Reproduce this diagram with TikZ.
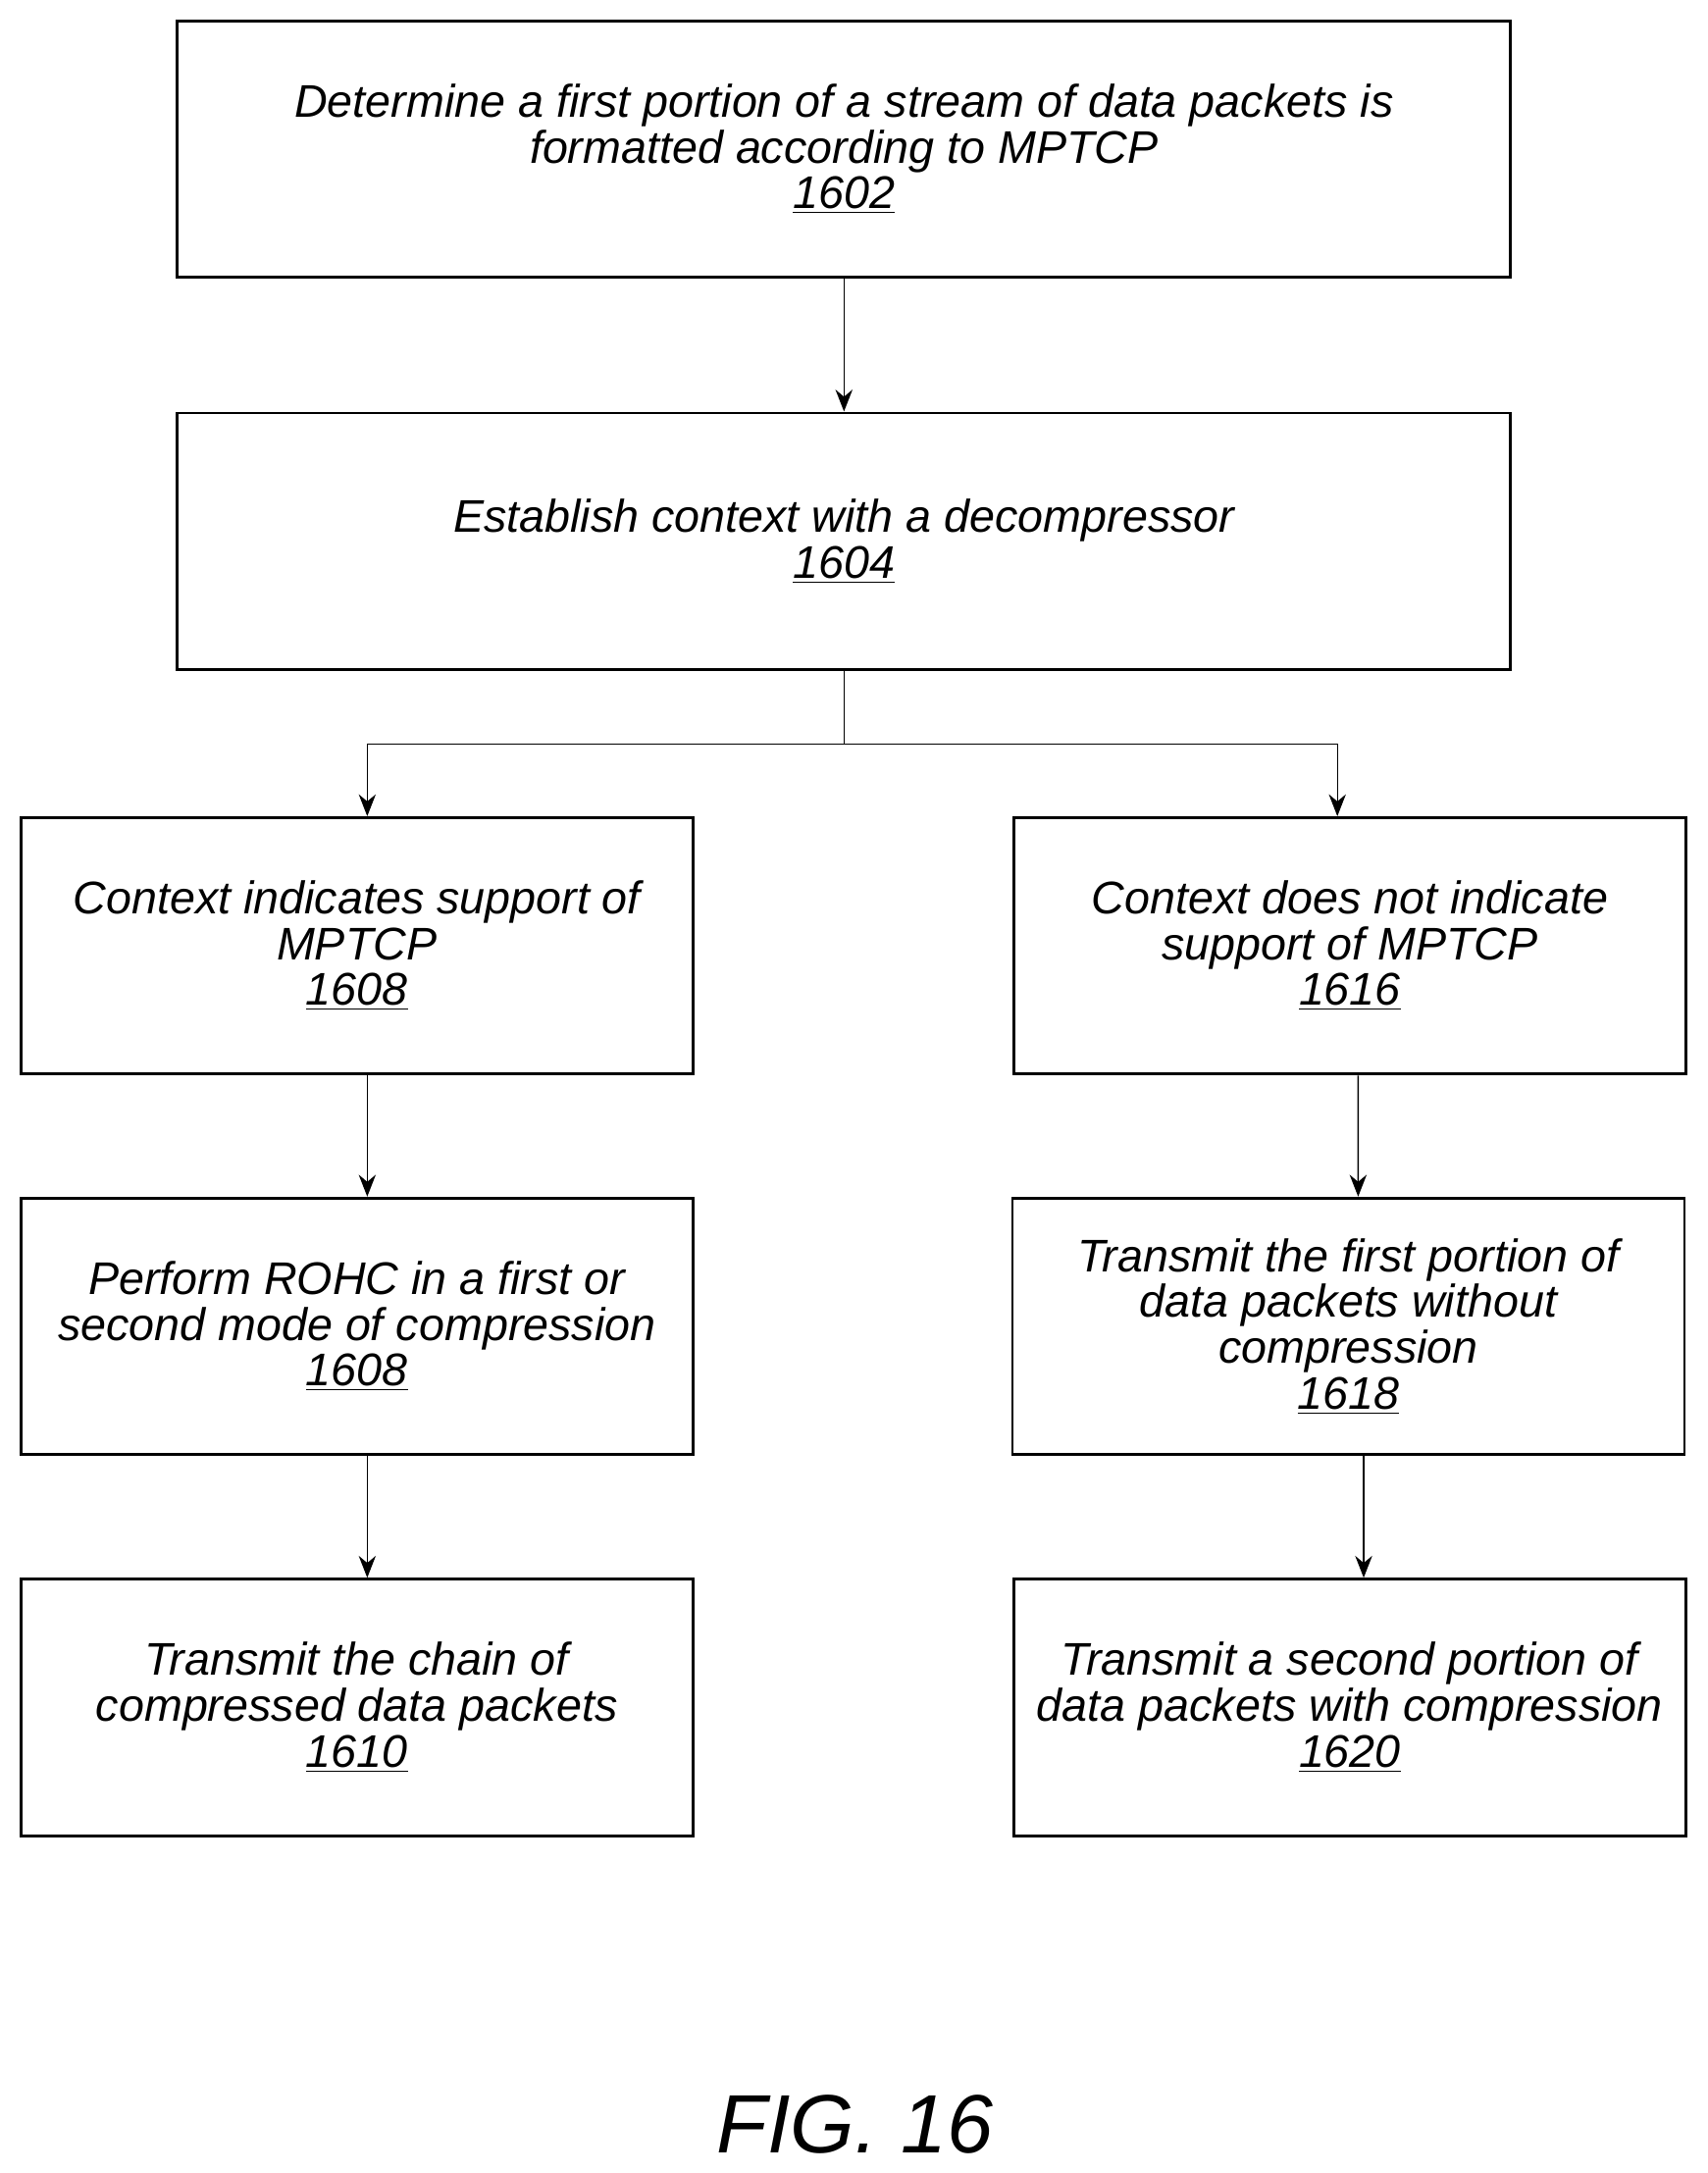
\documentclass[tikz,border=0pt]{standalone}
\usepackage{fontspec}
\setmainfont{Liberation Sans}
\usetikzlibrary{arrows.meta,positioning}
\begin{document}
\begin{tikzpicture}[x=0.02cm,y=-0.02cm,
                    stepND/.style={rectangle,
                                   draw=black,
                                   line width=1.2pt,
                                   minimum width=9.7cm,
                                   minimum height=3.7cm,
                                   align=center,
                                   font=\fontsize{18.8}{18.8}\selectfont\itshape},
                    wideND/.style={stepND,minimum width=19.24cm},
                    flow/.style={-{Stealth[length=9pt,width=7pt]},line width=0.6pt}]
    \useasboundingbox (0,0) rectangle (1232,1568);
    \node[wideND](s1602) at (609,107.5) {Determine a first portion of a stream of data packets is\\formatted according to MPTCP\\\underline{1602}};
    \node[wideND](s1604) at (609,390.5) {Establish context with a decompressor\\\underline{1604}};
    \node[stepND](s1608a) at (257.5,682.5) {Context indicates support of\\MPTCP\\\underline{1608}};
    \node[stepND](s1616) at (974,682.5) {Context does not indicate\\support of MPTCP\\\underline{1616}};
    \node[stepND](s1608b) at (257.5,957) {Perform ROHC in a first or\\second mode of compression\\\underline{1608}};
    \node[stepND](s1618) at (973,957) {Transmit the first portion of\\data packets without\\compression\\\underline{1618}};
    \node[stepND](s1610) at (257.5,1232) {Transmit the chain of\\compressed data packets\\\underline{1610}};
    \node[stepND](s1620) at (974,1232) {Transmit a second portion of\\data packets with compression\\\underline{1620}};
    \node[font=\fontsize{34}{40}\selectfont\itshape](fig) at (617,1533) {FIG. 16};
    \coordinate (split) at (609,537);
    \draw[flow] (s1602) -- (s1604);
    \draw[line width=0.4pt] (s1604.south) -- (split);
    \draw[flow,line width=0.4pt] (split) -| ([xshift=0.15cm]s1608a.north);
    \draw[flow,line width=0.4pt] (split) -| ([xshift=-0.18cm]s1616.north);
    \draw[flow] ([xshift=0.15cm]s1608a.south) -- ([xshift=0.15cm]s1608b.north);
    \draw[flow] ([xshift=0.15cm]s1608b.south) -- ([xshift=0.15cm]s1610.north);
    \draw[flow] ([xshift=0.12cm]s1616.south) -- ([xshift=0.14cm]s1618.north);
    \draw[flow] ([xshift=0.22cm]s1618.south) -- ([xshift=0.2cm]s1620.north);
\end{tikzpicture}
\end{document}
